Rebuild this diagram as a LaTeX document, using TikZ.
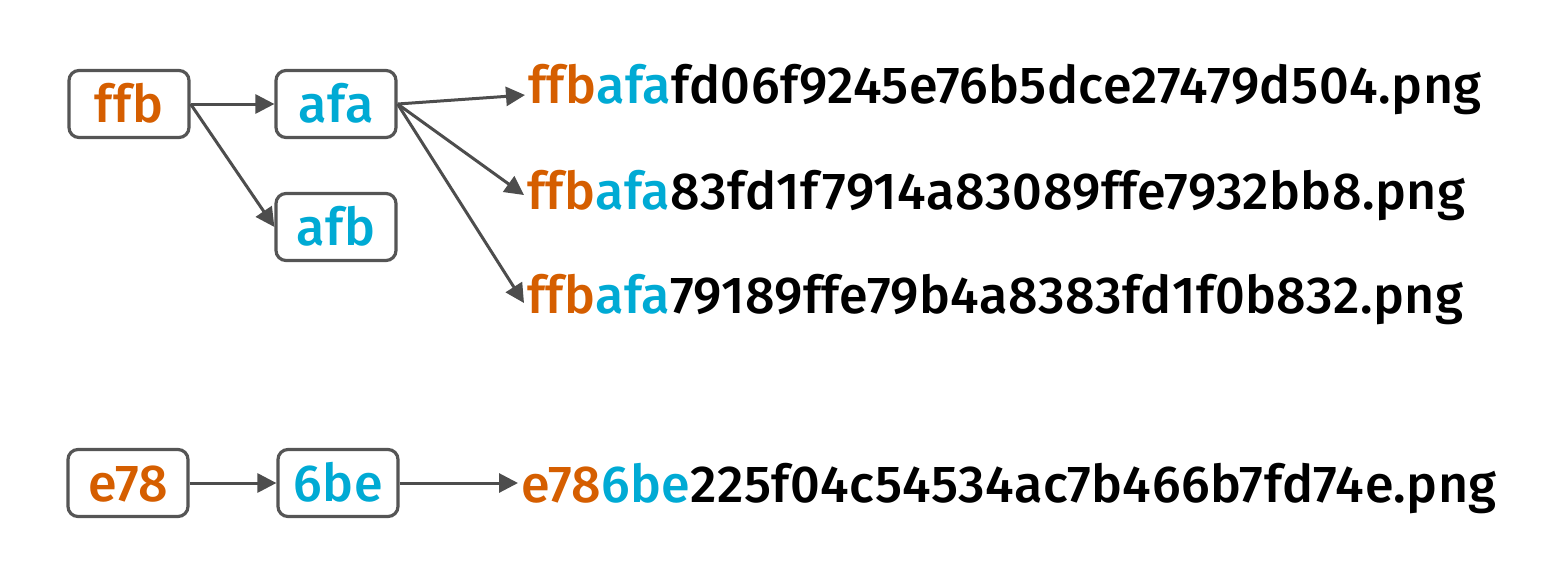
\documentclass[tikz,border=0pt]{standalone}
\usepackage{fontspec}
\setmainfont{Fira Sans Medium}[Ligatures=NoCommon, LetterSpace=1.0]
\usetikzlibrary{arrows.meta}
\definecolor{hOrange}{HTML}{D55E00}
\definecolor{hBlue}{HTML}{00AAD4}
\definecolor{boxGray}{HTML}{555555}
\definecolor{arrGray}{HTML}{4D4D4D}
\tikzset{
  keybox/.style={draw=boxGray, line width=1.6pt, rounded corners=5pt,
    minimum width=60pt, minimum height=33.5pt, inner sep=0pt,
    font=\fontsize{26}{30}\selectfont, text height=18.7pt, text depth=0pt},
  fname/.style={anchor=base west, inner xsep=1.5pt, inner ysep=0pt,
    font=\fontsize{26}{30}\selectfont},
  link/.style={draw=arrGray, line width=1.5pt,
    -{Triangle[length=9.5pt,width=9.5pt]}},
}
\newcommand{\ho}[1]{\textcolor{hOrange}{#1}}
\newcommand{\hb}[1]{\textcolor{hBlue}{#1}}
\begin{document}
\begin{tikzpicture}[x=0.5pt,y=-0.5pt]
\useasboundingbox (0,0) rectangle (1556,584);
\node[keybox] (ffb) at (129,104) {\ho{ffb}};
\node[keybox] (afa) at (336,104) {\hb{afa}};
\node[keybox] (afb) at (336,227) {\hb{afb}};
\node[keybox] (e78) at (128,483) {\ho{e78}};
\node[keybox] (sbe) at (338,483) {\hb{6be}};

\node[fname] (t1) at (525,103) {\ho{ffb}\hb{afa}fd06f9245e76b5dce27479d504.png};
\node[fname] (t2) at (524,209) {\ho{ffb}\hb{afa}83fd1f7914a83089ffe7932bb8.png};
\node[fname] (t3) at (524,313) {\ho{ffb}\hb{afa}79189ffe79b4a8383fd1f0b832.png};
\node[fname] (t4) at (518,502) {\ho{e78}\hb{6be}225f04c54534ac7b466b7fd74e.png};

\draw[link] (ffb.east) -- (afa.west);
\draw[link] (ffb.east) -- (afb.west);
\draw[link] (afa.east) -- ([yshift=-3pt]t1.west);
\draw[link] (afa.east) -- (t2.west);
\draw[link] (afa.east) -- ([yshift=-2pt]t3.west);
\draw[link] (e78.east) -- (sbe.west);
\draw[link] (sbe.east) -- (sbe.east -| t4.west);
\end{tikzpicture}
\end{document}
